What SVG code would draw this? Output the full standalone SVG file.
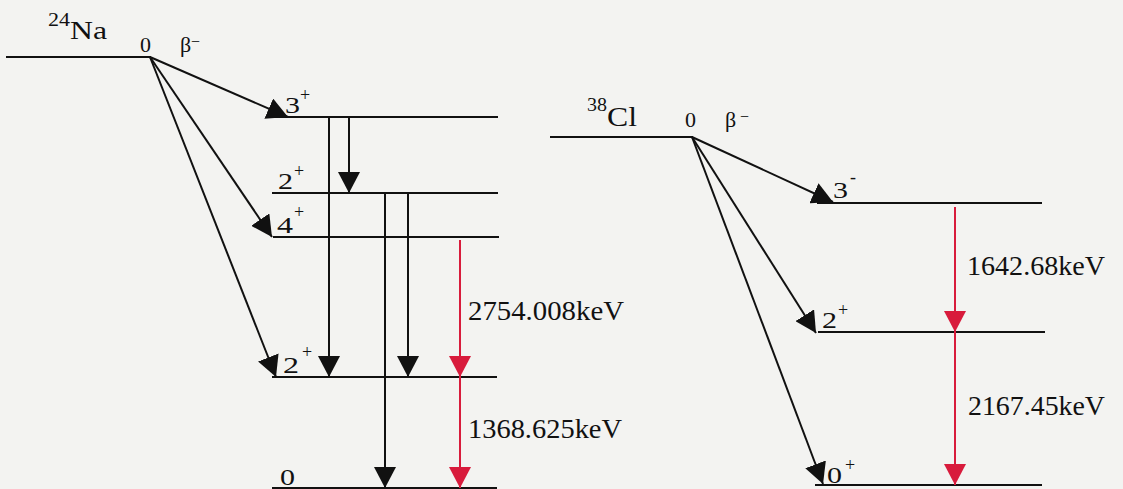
<svg xmlns="http://www.w3.org/2000/svg" width="1123" height="489" viewBox="0 0 1123 489">
<style>
text{font-family:"Liberation Serif","Times New Roman",serif;fill:#111}
.lv{stroke:#111;stroke-width:2;fill:none}
.ar{stroke:#111;stroke-width:2;fill:none;marker-end:url(#ab)}
.rd{stroke:#d81b3c;stroke-width:2;fill:none;marker-end:url(#ar)}
.big{font-size:27px}
.lab{font-size:24px}
.sup{font-size:18px}
</style>
<defs>
<marker id="ab" markerUnits="userSpaceOnUse" markerWidth="21" markerHeight="22" refX="21" refY="11" orient="auto" viewBox="0 0 21 22"><path d="M0,0 L21,11 L0,22 z" fill="#111"/></marker>
<marker id="ar" markerUnits="userSpaceOnUse" markerWidth="21" markerHeight="22" refX="21" refY="11" orient="auto" viewBox="0 0 21 22"><path d="M0,0 L21,11 L0,22 z" fill="#d81b3c"/></marker>
</defs>
<rect width="1123" height="489" fill="#f3f3f1"/>

<g id="na-parent">
<line class="lv" x1="6" y1="57" x2="151" y2="57"/>
<text x="48" y="26" font-size="18" textLength="22" lengthAdjust="spacingAndGlyphs">24</text>
<text x="70" y="39" font-size="26" textLength="37" lengthAdjust="spacingAndGlyphs">Na</text>
<text x="140" y="52" font-size="20" textLength="11" lengthAdjust="spacingAndGlyphs">0</text>
<text x="180" y="52" font-size="22">β</text>
<text x="191" y="47" font-size="16">−</text>
</g>
<g id="na-3plus">
<line class="lv" x1="272" y1="117" x2="498" y2="117"/>
<text x="285" y="113" class="lab" textLength="15" lengthAdjust="spacingAndGlyphs">3</text>
<text x="300" y="101" class="sup">+</text>
</g>
<g id="na-2plus-upper">
<line class="lv" x1="272" y1="193" x2="498" y2="193"/>
<text x="278" y="189" class="lab" textLength="15" lengthAdjust="spacingAndGlyphs">2</text>
<text x="294" y="177" class="sup">+</text>
</g>
<g id="na-4plus">
<line class="lv" x1="273" y1="237" x2="499" y2="237"/>
<text x="277" y="233" class="lab" textLength="16" lengthAdjust="spacingAndGlyphs">4</text>
<text x="294" y="218" class="sup">+</text>
</g>
<g id="na-2plus-lower">
<line class="lv" x1="272" y1="377" x2="497" y2="377"/>
<text x="283" y="373" class="lab" textLength="16" lengthAdjust="spacingAndGlyphs">2</text>
<text x="302" y="358" class="sup">+</text>
</g>
<g id="na-ground">
<line class="lv" x1="272" y1="488" x2="497" y2="488"/>
<text x="280" y="485" class="lab" textLength="15" lengthAdjust="spacingAndGlyphs">0</text>
</g>
<g id="na-labels">
<text x="468" y="320" class="big" textLength="156" lengthAdjust="spacingAndGlyphs">2754.008keV</text>
<text x="468" y="438" class="big" textLength="154" lengthAdjust="spacingAndGlyphs">1368.625keV</text>
</g>

<g id="cl-parent">
<line class="lv" x1="550" y1="137" x2="693" y2="137"/>
<text x="587" y="111" font-size="18" textLength="20" lengthAdjust="spacingAndGlyphs">38</text>
<text x="607" y="126" font-size="27" textLength="30" lengthAdjust="spacingAndGlyphs">Cl</text>
<text x="685" y="127" font-size="20" textLength="11" lengthAdjust="spacingAndGlyphs">0</text>
<text x="725" y="127" font-size="22">β</text>
<text x="740" y="122" font-size="16">−</text>
</g>
<g id="cl-3minus">
<line class="lv" x1="817" y1="203" x2="1042" y2="203"/>
<text x="833" y="198" class="lab" textLength="15" lengthAdjust="spacingAndGlyphs">3</text>
<text x="850" y="183" class="sup">-</text>
</g>
<g id="cl-2plus">
<line class="lv" x1="818" y1="332" x2="1045" y2="332"/>
<text x="822" y="328" class="lab" textLength="15" lengthAdjust="spacingAndGlyphs">2</text>
<text x="838" y="316" class="sup">+</text>
</g>
<g id="cl-0plus">
<line class="lv" x1="815" y1="485" x2="1042" y2="485"/>
<text x="827" y="483" class="lab" textLength="15" lengthAdjust="spacingAndGlyphs">0</text>
<text x="845" y="471" class="sup">+</text>
</g>
<g id="cl-labels">
<text x="967" y="275" class="big" textLength="138" lengthAdjust="spacingAndGlyphs">1642.68keV</text>
<text x="968" y="415" class="big" textLength="137" lengthAdjust="spacingAndGlyphs">2167.45keV</text>
</g>

<g id="connectors">
<line class="ar" x1="150" y1="57" x2="288" y2="117"/>
<line class="ar" x1="150" y1="57" x2="272" y2="237"/>
<line class="ar" x1="150" y1="57" x2="276" y2="377"/>
<line class="ar" x1="349" y1="117" x2="349" y2="193"/>
<line class="ar" x1="329" y1="117" x2="329" y2="377"/>
<line class="ar" x1="385" y1="193" x2="385" y2="488"/>
<line class="ar" x1="408" y1="193" x2="408" y2="377"/>
<line class="rd" x1="460" y1="240" x2="460" y2="377"/>
<line class="rd" x1="460" y1="377" x2="460" y2="488"/>
<line class="ar" x1="692" y1="137" x2="833" y2="202"/>
<line class="ar" x1="692" y1="137" x2="816" y2="333"/>
<line class="ar" x1="692" y1="137" x2="823" y2="484"/>
<line class="rd" x1="955" y1="207" x2="955" y2="332"/>
<line class="rd" x1="955" y1="332" x2="955" y2="485"/>
</g>
</svg>
